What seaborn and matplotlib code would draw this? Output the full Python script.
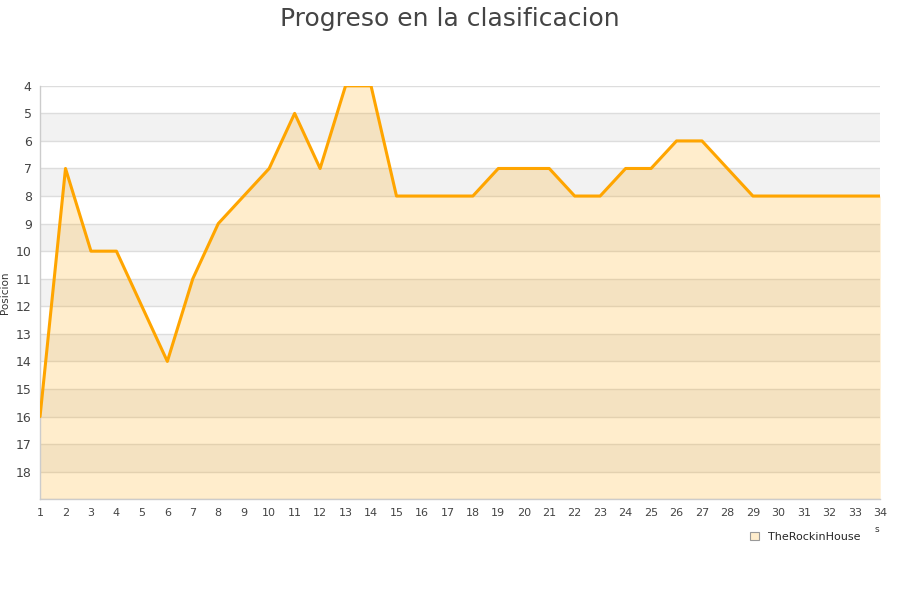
import matplotlib.pyplot as plt
import matplotlib.patches as mpatches
import pandas as pd
import numpy as np
import seaborn as sns

jornadas = list(range(1, 35))
posicion = [16, 7, 10, 10, 12, 14, 11, 9, 8, 7, 5, 7, 4, 4, 8, 8, 8, 8, 7, 7,
            7, 8, 8, 7, 7, 6, 6, 7, 8, 8, 8, 8, 8, 8]
equipo = "TheRockinHouse"

df = pd.DataFrame(dict(jornada=jornadas, posicion=posicion))

sns.set_style("white")
plt.rcParams['font.family'] = ['DejaVu Sans']

fig, ax = plt.subplots(figsize=(9, 6), dpi=100)
fig.subplots_adjust(left=0.0445, right=0.978, top=0.857, bottom=0.168)

# franjas alternas
for y in range(4, 19):
    if y % 2 == 1:
        ax.axhspan(y, y + 1, color="#f2f2f2", zorder=0, lw=0)
for y in range(4, 20):
    ax.axhline(y, color="#dddddd", lw=1, zorder=1)

ax.fill_between(df["jornada"], df["posicion"], 19, color="#ffa500", alpha=0.2, lw=0, zorder=2)
sns.lineplot(data=df, x="jornada", y="posicion", ax=ax, color="#ffa500", lw=2.2, zorder=3)

ax.set_xlim(1, 34)
ax.set_ylim(19, 4)
ax.set_xticks(jornadas)
ax.set_yticks(range(4, 19))
ax.tick_params(axis="both", labelsize=8, colors="#444444", length=0, pad=6)
ax.tick_params(axis="y", labelsize=9)
ax.set_xlabel("")
ax.set_ylabel("Posicion", fontsize=7.5, color="#333333", labelpad=4)
for s in ["top", "right"]:
    ax.spines[s].set_visible(False)
for s in ["left", "bottom"]:
    ax.spines[s].set_color("#cccccc")
    ax.spines[s].set_linewidth(1)

fig.suptitle("Progreso en la clasificacion", fontsize=18, color="#444444", y=0.988)

handle = mpatches.Patch(facecolor="#ffedcc", edgecolor="#999999", lw=0.8)
leg = fig.legend([handle], [equipo], loc="center", bbox_to_anchor=(0.895, 0.105),
                 frameon=False, fontsize=8, handlelength=0.8, handleheight=0.8)
fig.text(0.972, 0.113, "s", fontsize=6.5, color="#333333")

plt.savefig("out.png", dpi=100)
